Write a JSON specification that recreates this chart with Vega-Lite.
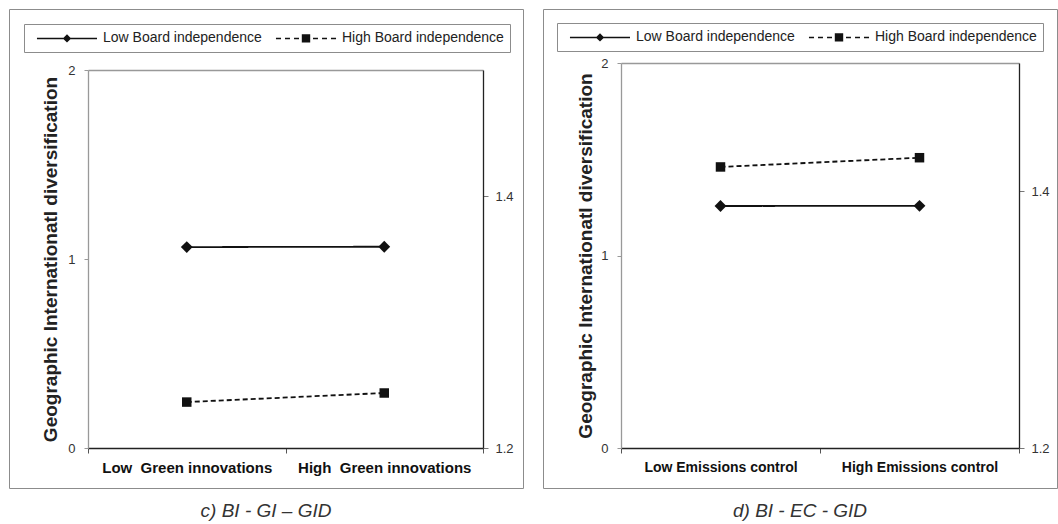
{
  "$schema": "https://vega.github.io/schema/vega-lite/v6.json",
  "padding": {"left": 8, "top": 8, "right": 0, "bottom": 0},
  "background": "white",
  "spacing": 20,
  "bounds": "flush",
  "resolve": {"scale": {"shape": "independent"}, "legend": {"shape": "independent"}},
  "config": {
    "font": "Liberation Sans",
    "view": {"stroke": "#8c8c8c", "strokeWidth": 1},
    "axis": {"grid": false, "labelFont": "Liberation Sans", "titleFont": "Liberation Sans", "labelColor": "#333", "titleColor": "#222", "labelFontSize": 13},
    "legend": {"labelFont": "Liberation Sans", "labelColor": "#222", "labelFontSize": 14},
    "title": {"font": "Liberation Sans", "color": "#333", "fontSize": 19, "fontWeight": "normal", "fontStyle": "italic"}
  },
  "datasets": {
    "c": [
      {"cat": "Low\u00a0 Green innovations", "group": "Low Board independence", "v": 1.063},
      {"cat": "High\u00a0 Green innovations", "group": "Low Board independence", "v": 1.065},
      {"cat": "Low\u00a0 Green innovations", "group": "High Board independence", "v": 0.243},
      {"cat": "High\u00a0 Green innovations", "group": "High Board independence", "v": 0.291}
    ],
    "d": [
      {"cat": "Low Emissions control", "group": "Low Board independence", "v": 1.257},
      {"cat": "High Emissions control", "group": "Low Board independence", "v": 1.258},
      {"cat": "Low Emissions control", "group": "High Board independence", "v": 1.46},
      {"cat": "High Emissions control", "group": "High Board independence", "v": 1.508}
    ]
  },
  "hconcat": [
    {
      "width": 514,
      "height": 479,
      "data": {"name": "c"},
      "title": {"text": "c)  BI - GI – GID", "orient": "bottom", "anchor": "middle", "frame": "group", "offset": 14},
      "layer": [
        {
          "layer": [
            {
              "mark": {"type": "line", "color": "#111", "strokeWidth": 1.8},
              "encoding": {
                "x": {"field": "cat", "type": "nominal", "sort": ["Low\u00a0 Green innovations", "High\u00a0 Green innovations"],
                  "scale": {"type": "band", "domain": ["Low\u00a0 Green innovations", "High\u00a0 Green innovations"], "range": [79, 474], "paddingInner": 0, "paddingOuter": 0},
                  "axis": {"orient": "bottom", "offset": -40, "title": null, "labelAngle": 0, "tickBand": "extent", "domainColor": "#222", "domainWidth": 1.3, "tickColor": "#555", "tickSize": 5, "labelPadding": 7, "labelFontWeight": "bold", "labelFontSize": 15, "labelColor": "#111"}},
                "y": {"field": "v", "type": "quantitative", "scale": {"domain": [0, 2], "range": [439, 61]},
                  "axis": {"orient": "left", "offset": -79, "values": [0, 1, 2], "format": ".0f", "title": "Geographic Internationatl diversification", "titleFontSize": 19, "titleFontWeight": "bold", "titlePadding": 7, "domainColor": "#999", "domainWidth": 1.3, "tickColor": "#999", "tickSize": 4, "labelPadding": 9}},
                "detail": {"field": "group", "type": "nominal"},
                "strokeDash": {"condition": {"test": "datum.group === 'High Board independence'", "value": [5, 3]}, "value": [1, 0]}
              }
            },
            {
              "mark": {"type": "point", "filled": true, "color": "#111", "opacity": 1},
              "encoding": {
                "x": {"field": "cat", "type": "nominal", "sort": ["Low\u00a0 Green innovations", "High\u00a0 Green innovations"], "axis": null},
                "y": {"field": "v", "type": "quantitative"},
                "shape": {"condition": {"test": "datum.group === 'Low Board independence'", "value": "diamond"}, "value": "square"},
                "size": {"condition": {"test": "datum.group === 'Low Board independence'", "value": 140}, "value": 90}
              }
            },
            {
              "mark": {"type": "point", "filled": true, "fill": "#111", "stroke": "#111", "strokeWidth": 1.5, "size": 0, "opacity": 1},
              "encoding": {
                "x": {"field": "cat", "type": "nominal", "sort": ["Low\u00a0 Green innovations", "High\u00a0 Green innovations"], "axis": null},
                "y": {"field": "v", "type": "quantitative"},
                "shape": {"field": "group", "type": "nominal",
                  "scale": {"domain": ["Low Board independence", "High Board independence"],
                    "range": ["M-4.29,-0.11L4.29,-0.11L4.29,0.11L-4.29,0.11ZM0,-0.6L0.6,0L0,0.6L-0.6,0Z", "M-4.29,-0.11L-3.57,-0.11L-3.57,0.11L-4.29,0.11ZM-3,-0.11L-2.29,-0.11L-2.29,0.11L-3,0.11ZM-1.71,-0.11L-1,-0.11L-1,0.11L-1.71,0.11ZM-0.6,-0.6L0.6,-0.6L0.6,0.6L-0.6,0.6ZM1,-0.11L1.71,-0.11L1.71,0.11L1,0.11ZM2.29,-0.11L3,-0.11L3,0.11L2.29,0.11ZM3.57,-0.11L4.29,-0.11L4.29,0.11L3.57,0.11Z"]},
                  "legend": {"title": null, "orient": "top-left", "offset": 15, "direction": "horizontal", "strokeColor": "#8c8c8c", "fillColor": "white", "padding": 6, "symbolSize": 196, "symbolOffset": 29, "symbolStrokeWidth": 1.5, "symbolStrokeColor": "#111", "symbolFillColor": "#111", "symbolOpacity": 1, "columnPadding": 7, "labelOffset": 28, "labelLimit": 300,
                    "encode": {"symbols": {"fill": {"value": "#111"}, "opacity": {"value": 1}}}}}
              }
            },
            {
              "mark": {"type": "rule", "opacity": 0},
              "encoding": {
                "x": {"field": "cat", "type": "nominal", "sort": ["Low\u00a0 Green innovations", "High\u00a0 Green innovations"], "axis": {"orient": "top", "offset": -61, "labels": false, "ticks": false, "title": null, "domainColor": "#999", "domainWidth": 1.3}}
              }
            }
          ],
          "resolve": {"axis": {"x": "independent"}}
        },
        {
          "mark": {"type": "rule", "opacity": 0},
          "encoding": {
            "y": {"datum": 1.2, "type": "quantitative", "scale": {"domain": [1.2, 1.5], "range": [439, 61]},
              "axis": {"orient": "right", "offset": -40, "values": [1.2, 1.4], "format": ".1f", "title": null, "domainColor": "#222", "domainWidth": 1.3, "tickColor": "#777", "tickSize": 5, "labelPadding": 7}}
          }
        }
      ],
      "resolve": {"scale": {"y": "independent"}}
    },
    {
      "width": 514,
      "height": 479,
      "data": {"name": "d"},
      "title": {"text": "d) BI - EC - GID", "orient": "bottom", "anchor": "middle", "frame": "group", "offset": 14},
      "layer": [
        {
          "layer": [
            {
              "mark": {"type": "line", "color": "#111", "strokeWidth": 1.8},
              "encoding": {
                "x": {"field": "cat", "type": "nominal", "sort": ["Low Emissions control", "High Emissions control"],
                  "scale": {"type": "band", "domain": ["Low Emissions control", "High Emissions control"], "range": [78, 476], "paddingInner": 0, "paddingOuter": 0},
                  "axis": {"orient": "bottom", "offset": -40, "title": null, "labelAngle": 0, "tickBand": "extent", "domainColor": "#222", "domainWidth": 1.3, "tickColor": "#555", "tickSize": 5, "labelPadding": 7, "labelFontWeight": "bold", "labelFontSize": 14, "labelColor": "#111"}},
                "y": {"field": "v", "type": "quantitative", "scale": {"domain": [0, 2], "range": [439, 54]},
                  "axis": {"orient": "left", "offset": -78, "values": [0, 1, 2], "format": ".0f", "title": "Geographic Internationatl diversification", "titleFontSize": 19, "titleFontWeight": "bold", "titlePadding": 5, "domainColor": "#999", "domainWidth": 1.3, "tickColor": "#999", "tickSize": 4, "labelPadding": 9}},
                "detail": {"field": "group", "type": "nominal"},
                "strokeDash": {"condition": {"test": "datum.group === 'High Board independence'", "value": [5, 3]}, "value": [1, 0]}
              }
            },
            {
              "mark": {"type": "point", "filled": true, "color": "#111", "opacity": 1},
              "encoding": {
                "x": {"field": "cat", "type": "nominal", "sort": ["Low Emissions control", "High Emissions control"], "axis": null},
                "y": {"field": "v", "type": "quantitative"},
                "shape": {"condition": {"test": "datum.group === 'Low Board independence'", "value": "diamond"}, "value": "square"},
                "size": {"condition": {"test": "datum.group === 'Low Board independence'", "value": 140}, "value": 90}
              }
            },
            {
              "mark": {"type": "point", "filled": true, "fill": "#111", "stroke": "#111", "strokeWidth": 1.5, "size": 0, "opacity": 1},
              "encoding": {
                "x": {"field": "cat", "type": "nominal", "sort": ["Low Emissions control", "High Emissions control"], "axis": null},
                "y": {"field": "v", "type": "quantitative"},
                "shape": {"field": "group", "type": "nominal",
                  "scale": {"domain": ["Low Board independence", "High Board independence"],
                    "range": ["M-4.29,-0.11L4.29,-0.11L4.29,0.11L-4.29,0.11ZM0,-0.6L0.6,0L0,0.6L-0.6,0Z", "M-4.29,-0.11L-3.57,-0.11L-3.57,0.11L-4.29,0.11ZM-3,-0.11L-2.29,-0.11L-2.29,0.11L-3,0.11ZM-1.71,-0.11L-1,-0.11L-1,0.11L-1.71,0.11ZM-0.6,-0.6L0.6,-0.6L0.6,0.6L-0.6,0.6ZM1,-0.11L1.71,-0.11L1.71,0.11L1,0.11ZM2.29,-0.11L3,-0.11L3,0.11L2.29,0.11ZM3.57,-0.11L4.29,-0.11L4.29,0.11L3.57,0.11Z"]},
                  "legend": {"title": null, "orient": "top-left", "offset": 14, "direction": "horizontal", "strokeColor": "#8c8c8c", "fillColor": "white", "padding": 6, "symbolSize": 196, "symbolOffset": 29, "symbolStrokeWidth": 1.5, "symbolStrokeColor": "#111", "symbolFillColor": "#111", "symbolOpacity": 1, "columnPadding": 7, "labelOffset": 28, "labelLimit": 300,
                    "encode": {"symbols": {"fill": {"value": "#111"}, "opacity": {"value": 1}}}}}
              }
            },
            {
              "mark": {"type": "rule", "opacity": 0},
              "encoding": {
                "x": {"field": "cat", "type": "nominal", "sort": ["Low Emissions control", "High Emissions control"], "axis": {"orient": "top", "offset": -54, "labels": false, "ticks": false, "title": null, "domainColor": "#999", "domainWidth": 1.3}}
              }
            }
          ],
          "resolve": {"axis": {"x": "independent"}}
        },
        {
          "mark": {"type": "rule", "opacity": 0},
          "encoding": {
            "y": {"datum": 1.2, "type": "quantitative", "scale": {"domain": [1.2, 1.5], "range": [439, 54]},
              "axis": {"orient": "right", "offset": -38, "values": [1.2, 1.4], "format": ".1f", "title": null, "domainColor": "#222", "domainWidth": 1.3, "tickColor": "#777", "tickSize": 5, "labelPadding": 7}}
          }
        }
      ],
      "resolve": {"scale": {"y": "independent"}}
    }
  ]
}
